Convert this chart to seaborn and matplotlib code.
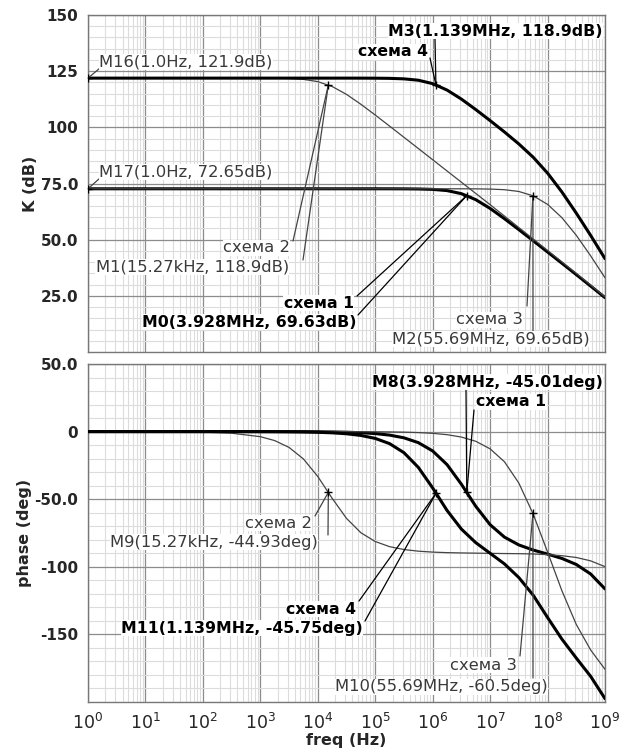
import numpy as np
import pandas as pd
import matplotlib
matplotlib.use("Agg")
import matplotlib.pyplot as plt
from matplotlib.ticker import LogLocator, MultipleLocator, NullFormatter
import seaborn as sns

# ---------------- data ----------------
freq = [1, 10, 100, 316.2, 1000, 1778, 3162, 5623,
        1e4, 1.778e4, 3.162e4, 5.623e4, 1e5, 1.778e5, 3.162e5, 5.623e5,
        1e6, 1.778e6, 3.162e6, 5.623e6, 1e7, 1.778e7, 3.162e7, 5.623e7,
        1e8, 1.778e8, 3.162e8, 5.623e8, 1e9]

gain_s1 = [72.65, 72.65, 72.65, 72.65, 72.65, 72.65, 72.65, 72.65,
           72.65, 72.65, 72.65, 72.65, 72.65, 72.64, 72.62, 72.56,
           72.38, 71.84, 70.48, 67.81, 63.91, 59.33, 54.47, 49.51,
           44.52, 39.50, 34.45, 29.35, 24.2]
gain_s2 = [121.9, 121.9, 121.9, 121.9, 121.88, 121.84, 121.72, 121.35,
           120.35, 118.18, 114.67, 110.27, 105.48, 100.55, 95.57, 90.58,
           85.58, 80.58, 75.58, 70.58, 65.58, 60.5, 55.4, 50.3,
           45.2, 40.1, 35.0, 29.8, 24.5]
gain_s3 = [72.65, 72.65, 72.65, 72.65, 72.65, 72.65, 72.65, 72.65,
           72.65, 72.65, 72.65, 72.65, 72.65, 72.65, 72.65, 72.65,
           72.65, 72.65, 72.64, 72.61, 72.52, 72.24, 71.45, 69.51,
           65.71, 59.78, 51.94, 42.81, 33.04]
gain_s4 = [121.9, 121.9, 121.9, 121.9, 121.9, 121.9, 121.9, 121.9,
           121.9, 121.9, 121.9, 121.89, 121.87, 121.80, 121.58, 120.97,
           119.45, 116.59, 112.57, 107.91, 103.0, 97.93, 92.6, 86.69,
           79.62, 71.21, 61.81, 51.9, 41.54]

phase_s1 = [0, 0, 0, 0, -0.01, -0.03, -0.05, -0.08,
            -0.15, -0.26, -0.46, -0.82, -1.46, -2.59, -4.6, -8.16,
            -14.32, -24.41, -38.93, -55.23, -68.85, -78.06, -83.83, -87.61,
            -90.61, -93.81, -98.28, -105.3, -116.35]
phase_s2 = [0, -0.04, -0.38, -1.19, -3.75, -6.64, -11.7, -20.21,
            -33.2, -49.3, -64.2, -74.8, -81.3, -85.1, -87.23, -88.44,
            -89.13, -89.52, -89.75, -89.9, -90.06, -90.2, -90.3, -90.5,
            -91.0, -91.8, -93.1, -95.6, -99.9]
phase_s3 = [0, 0, 0, 0, 0, 0, 0, -0.01,
            -0.01, -0.02, -0.04, -0.07, -0.13, -0.23, -0.40, -0.72,
            -1.28, -2.27, -4.04, -7.16, -12.74, -22.32, -38.07, -61.03,
            -89.05, -117.72, -142.63, -161.52, -175.83]
phase_s4 = [0, 0, -0.01, -0.02, -0.05, -0.09, -0.16, -0.28,
            -0.51, -0.90, -1.60, -2.84, -5.04, -8.90, -15.59, -26.44,
            -41.66, -58.29, -72.1, -82.14, -89.99, -97.86, -107.95, -121.0,
            -137.5, -153.5, -167.5, -181.0, -197.5]

# markers
mk_gain_f = [1.0, 1.0, 1.139e6, 15.27e3, 3.928e6, 55.69e6]
mk_gain_v = [121.9, 72.65, 118.9, 118.9, 69.63, 69.65]
mk_phase_f = [3.928e6, 15.27e3, 1.139e6, 55.69e6]
mk_phase_v = [-45.01, -44.93, -45.75, -60.5]

schemes = ["схема 1", "схема 2", "схема 3", "схема 4"]
thick = {"схема 1": True, "схема 2": False, "схема 3": False, "схема 4": True}

gain_df = pd.DataFrame({"freq": freq * 4,
                        "val": gain_s1 + gain_s2 + gain_s3 + gain_s4,
                        "scheme": sum([[s] * len(freq) for s in schemes], [])})
phase_df = pd.DataFrame({"freq": freq * 4,
                         "val": phase_s1 + phase_s2 + phase_s3 + phase_s4,
                         "scheme": sum([[s] * len(freq) for s in schemes], [])})

# ---------------- figure ----------------
sns.set_style("white")
plt.rcParams['font.family'] = ['DejaVu Sans']

W, H = 637, 755
fig = plt.figure(figsize=(W / 100, H / 100), dpi=100)

def px_axes(x0, y0, x1, y1):
    return fig.add_axes([x0 / W, 1 - y1 / H, (x1 - x0) / W, (y1 - y0) / H])

ax1 = px_axes(88, 15, 605, 352)
ax2 = px_axes(88, 364, 605, 702)

MAJ = '#8c8c8c'
MIN = '#dcdcdc'
THIN_C = '#444444'
TXT_C = '#3a3a3a'
REG_FS = 11.8
BOLD_FS = 11.3

def style_axes(ax, ylo, yhi, minor, ticks, labels, xlabels):
    ax.set_xscale('log')
    ax.set_xlim(1, 1e9)
    ax.set_ylim(ylo, yhi)
    ax.xaxis.set_major_locator(LogLocator(base=10, numticks=20))
    ax.xaxis.set_minor_locator(LogLocator(base=10, subs=np.arange(2, 10), numticks=20))
    ax.set_yticks(ticks)
    ax.set_yticklabels(labels, fontweight='bold')
    ax.yaxis.set_minor_locator(MultipleLocator(minor))
    ax.grid(which='minor', color=MIN, linewidth=0.8, zorder=0)
    ax.grid(which='major', color=MAJ, linewidth=0.9, zorder=0)
    ax.set_axisbelow(True)
    for s in ax.spines.values():
        s.set_color('#777777')
        s.set_linewidth(1.0)
    ax.tick_params(axis='y', which='major', direction='out', length=6, width=1,
                   color='#555555', labelsize=11, pad=1)
    ax.tick_params(axis='y', which='minor', direction='out', length=3, width=0.8,
                   color='#555555')
    if xlabels:
        ax.tick_params(axis='x', which='major', direction='out', length=6, width=1,
                       color='#555555', labelsize=12.5, pad=2)
        ax.tick_params(axis='x', which='minor', direction='in', length=3, width=0.8,
                       color='#555555')
    else:
        ax.tick_params(axis='x', which='both', length=0, labelbottom=False)
        ax.xaxis.set_minor_formatter(NullFormatter())

for ax, df in ((ax1, gain_df), (ax2, phase_df)):
    for s in schemes:
        sub = df[df.scheme == s]
        sns.lineplot(data=sub, x="freq", y="val", ax=ax, estimator=None, sort=False,
                     color='black' if thick[s] else THIN_C,
                     linewidth=2.2 if thick[s] else 0.9, zorder=3, legend=False)

style_axes(ax1, 0, 150, 5, [25, 50, 75, 100, 125, 150],
           ["25.0", "50.0", "75.0", "100", "125", "150"], False)
style_axes(ax2, -200, 50, 10, [-150, -100, -50, 0, 50],
           ["-150", "-100", "-50.0", "0", "50.0"], True)
ax2.set_xticks([10.0 ** k for k in range(10)])
ax2.set_xticklabels([r"$10^{%d}$" % k for k in range(10)])
ax2.set_xlim(1, 1e9)

ax1.set_xlabel("")
ax2.set_xlabel("freq (Hz)", fontsize=11.5, fontweight='bold', labelpad=0)
ax1.set_ylabel("K (dB)", fontsize=11.5, fontweight='bold', labelpad=2)
ax2.set_ylabel("phase (deg)", fontsize=11.5, fontweight='bold', labelpad=2)

# marker points
ax1.plot(mk_gain_f, mk_gain_v, linestyle='none', marker='+', markersize=6,
         color='black', markeredgewidth=1, zorder=5)
ax2.plot(mk_phase_f, mk_phase_v, linestyle='none', marker='+', markersize=6,
         color='black', markeredgewidth=1, zorder=5)

BOX = dict(facecolor='white', edgecolor='none', pad=0.3)

def label(ax, text, xy, tx, ty, ha, bold, line_from=None):
    """text at figure pixel (tx, ty from top); optional line from pixel point to data xy."""
    fig.text(tx / W, 1 - ty / H, text, ha=ha, va='center',
             fontsize=BOLD_FS if bold else REG_FS,
             fontweight='bold' if bold else 'normal', color='black' if bold else TXT_C,
             bbox=BOX, zorder=6)
    if line_from is not None:
        lx, ly = line_from
        ax.annotate("", xy=xy, xycoords='data',
                    xytext=(lx, H - ly), textcoords='figure pixels',
                    arrowprops=dict(arrowstyle='-', color='black' if bold else THIN_C,
                                    lw=0.9, shrinkA=0, shrinkB=0), zorder=4)

# top panel labels
label(ax1, "M16(1.0Hz, 121.9dB)", (mk_gain_f[0], mk_gain_v[0]), 99, 62, 'left', False, (100, 68))
label(ax1, "M17(1.0Hz, 72.65dB)", (mk_gain_f[1], mk_gain_v[1]), 99, 172, 'left', False, (100, 178))
label(ax1, "M3(1.139MHz, 118.9dB)", (mk_gain_f[2], mk_gain_v[2]), 603, 31, 'right', True, (435, 39))
label(ax1, "схема 4", (mk_gain_f[2], mk_gain_v[2]), 428, 52, 'right', True, (430, 58))
label(ax1, "схема 2", (mk_gain_f[3], mk_gain_v[3]), 290, 248, 'right', False, (293, 241))
label(ax1, "M1(15.27kHz, 118.9dB)", (mk_gain_f[3], mk_gain_v[3]), 289, 267, 'right', False, (303, 260))
label(ax1, "схема 1", (mk_gain_f[4], mk_gain_v[4]), 354, 303, 'right', True, (357, 296))
label(ax1, "M0(3.928MHz, 69.63dB)", (mk_gain_f[4], mk_gain_v[4]), 357, 322, 'right', True, (358, 315))
label(ax1, "схема 3", (mk_gain_f[5], mk_gain_v[5]), 523, 320, 'right', False, (527, 306))
label(ax1, "M2(55.69MHz, 69.65dB)", (mk_gain_f[5], mk_gain_v[5]), 590, 339, 'right', False, (533, 331))

# bottom panel labels
label(ax2, "M8(3.928MHz, -45.01deg)", (mk_phase_f[0], mk_phase_v[0]), 603, 382, 'right', True, (466, 390))
label(ax2, "схема 1", (mk_phase_f[0], mk_phase_v[0]), 476, 402, 'left', True, (474, 410))
label(ax2, "схема 2", (mk_phase_f[1], mk_phase_v[1]), 312, 523, 'right', False, (315, 516))
label(ax2, "M9(15.27kHz, -44.93deg)", (mk_phase_f[1], mk_phase_v[1]), 318, 542, 'right', False, (328, 535))
label(ax2, "схема 4", (mk_phase_f[2], mk_phase_v[2]), 356, 609, 'right', True, (359, 601))
label(ax2, "M11(1.139MHz, -45.75deg)", (mk_phase_f[2], mk_phase_v[2]), 363, 628, 'right', True, (365, 621))
label(ax2, "схема 3", (mk_phase_f[3], mk_phase_v[3]), 517, 665, 'right', False, (520, 656))
label(ax2, "M10(55.69MHz, -60.5deg)", (mk_phase_f[3], mk_phase_v[3]), 548, 687, 'right', False, (533, 678))

fig.savefig("out.png", dpi=100, facecolor='white')
